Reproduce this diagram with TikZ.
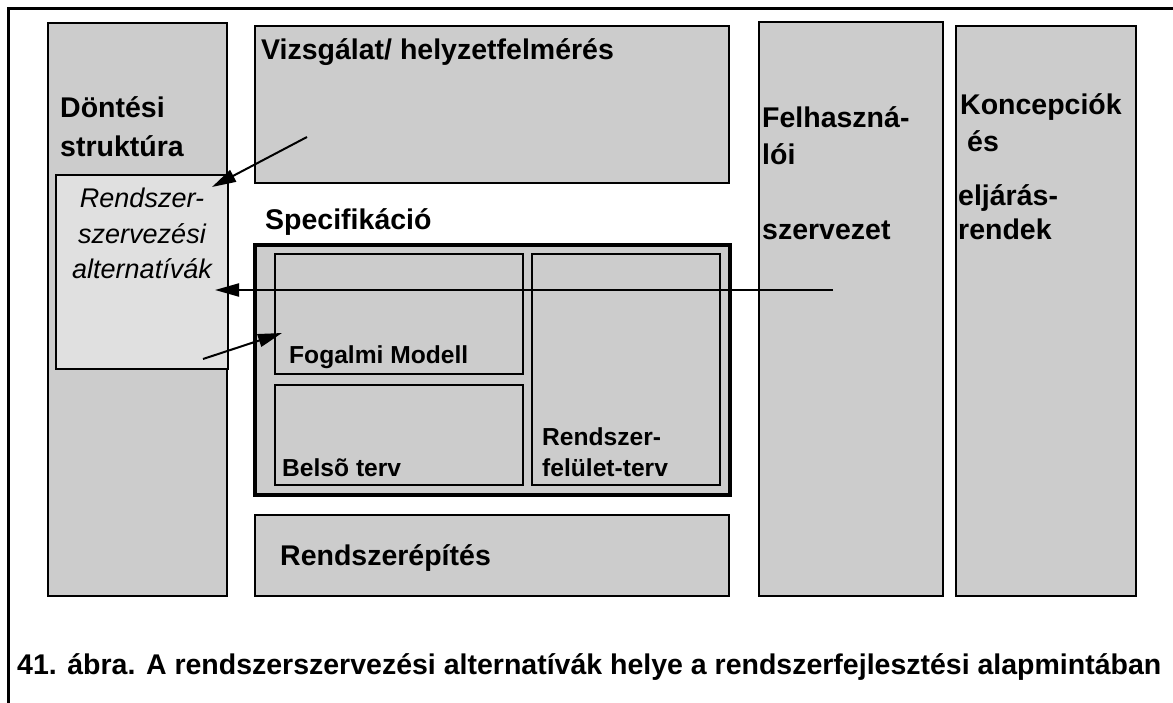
\documentclass[tikz,border=0pt]{standalone}
\usepackage{fontspec}
\setmainfont{Liberation Sans}
\usetikzlibrary{arrows.meta}
\usetikzlibrary{fit}
\definecolor{boxgray}{RGB}{204,204,204}
\definecolor{altgray}{RGB}{224,224,224}
\newcommand{\bigbf}{\fontsize{28.5}{33}\selectfont\bfseries}
\newcommand{\smallbf}{\fontsize{24.6}{29}\selectfont\bfseries}

\begin{document}
\begin{tikzpicture}[x=1pt, y=-1pt,
  box/.style={draw=black, fill=boxgray, line width=2pt, inner sep=0pt, outer sep=0pt},
  lbl/.style={anchor=base west, inner sep=0pt, font=\bigbf},
  sublbl/.style={anchor=base west, inner sep=0pt, font=\smallbf},
  altlbl/.style={anchor=base, inner sep=0pt, font=\fontsize{27}{31}\selectfont\itshape},
  arr/.style={line width=2pt, -{Triangle[length=24pt, width=13pt]}}]
\useasboundingbox (0,0) rectangle (1173,703);
% frame
\draw[line width=3pt] (1173,9) -- (8,9) -- (8,703);
% columns and boxes
\node[box, fit={(48,23) (227,596)}] (dont) {};
\node[box, fill=altgray, fit={(56,175) (228,369)}] (alt) {};
\node[box, fit={(255,26) (729,183)}] (vizs) {};
\node[box, line width=3.5pt, fit={(255,245) (730,495)}] (spec) {};
\node[box, fit={(275,254) (523,374)}] (fog) {};
\node[box, fit={(275,385) (523,485)}] (belso) {};
\node[box, fit={(532,254) (720,485)}] (felulet) {};
\node[box, fit={(255,515) (729,596)}] (epit) {};
\node[box, fit={(759,22) (943,596)}] (felh) {};
\node[box, fit={(956,26) (1136,596)}] (konc) {};
% texts
\node[lbl] (dont1) at (60,118) {Döntési};
\node[lbl] (dont2) at (60,157) {struktúra};
\node[altlbl] (alt1) at (142,208) {Rendszer-};
\node[altlbl] (alt2) at (142,244) {szervezési};
\node[altlbl] (alt3) at (142,279) {alternatívák};
\node[lbl] (vizs1) at (261,60) {Vizsgálat/ helyzetfelmérés};
\node[lbl] (spec1) at (265,230) {Specifikáció};
\node[sublbl] (fog1) at (289,363) {Fogalmi Modell};
\node[sublbl] (belso1) at (282,476) {Belsõ terv};
\node[sublbl] (felulet1) at (542,445) {Rendszer-};
\node[sublbl] (felulet2) at (542,476) {felület-terv};
\node[lbl] (epit1) at (280,565) {Rendszerépítés};
\node[lbl] (felh1) at (762,128) {Felhaszná-};
\node[lbl] (felh2) at (762,165) {lói};
\node[lbl] (felh3) at (762,240) {szervezet};
\node[lbl] (konc1) at (960,115) {Koncepciók};
\node[lbl] (konc2) at (967,152) {és};
\node[lbl] (konc3) at (958,206) {eljárás-};
\node[lbl] (konc4) at (958,240) {rendek};
\node[lbl, font=\fontsize{28.5}{33}\selectfont\bfseries] (cap) at (17,674)
  {41. ábra. A rendszerszervezési alternatívák helye a rendszerfejlesztési alapmintában};
% connectors
\coordinate (vizsOut) at (307,137);
\coordinate (altIn1) at (212,187);
\coordinate (felhOut) at (833,290);
\coordinate (altIn2) at (215,290);
\coordinate (altOut) at (203,359);
\coordinate (fogIn) at (282,333);
\draw[arr] (vizsOut) -- (altIn1);
\draw[arr] (felhOut) -- (altIn2);
\draw[arr] (altOut) -- (fogIn);
\end{tikzpicture}
\end{document}
